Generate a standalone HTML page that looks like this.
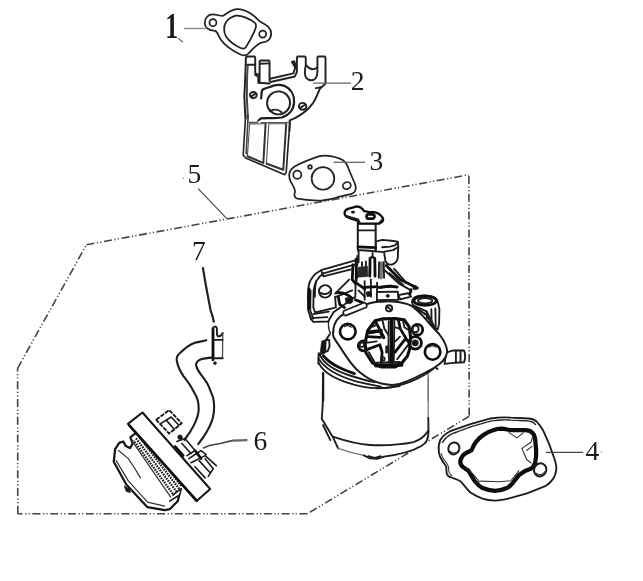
<!DOCTYPE html>
<html>
<head>
<meta charset="utf-8">
<title>Carburetor assembly</title>
<style>
html,body{margin:0;padding:0;background:#fff;}
body{width:643px;height:581px;overflow:hidden;position:relative;}
svg{position:absolute;left:0;top:0;display:block;}
.ln{fill:none;stroke:#222;stroke-width:7;stroke-linecap:round;stroke-linejoin:round;}
.th{fill:none;stroke:#333;stroke-width:5;stroke-linecap:round;stroke-linejoin:round;}
.bd{fill:none;stroke:#111;stroke-width:8;stroke-linecap:round;stroke-linejoin:round;}
.ln2{fill:none;stroke:#222;stroke-width:12.5;stroke-linecap:round;stroke-linejoin:round;}
.bd2{fill:none;stroke:#1a1a1a;stroke-width:14;stroke-linecap:round;stroke-linejoin:round;}
.ln3{fill:#fff;stroke:#222;stroke-width:8.5;stroke-linecap:round;stroke-linejoin:round;}
.k{fill:none;stroke:#1c1c1c;stroke-width:12;stroke-linecap:round;stroke-linejoin:round;}
.kk{fill:none;stroke:#111;stroke-width:18;stroke-linecap:round;stroke-linejoin:round;}
.g{fill:none;stroke:#777;stroke-width:8;stroke-linecap:round;stroke-linejoin:round;}
.f{fill:#151515;stroke:#151515;stroke-width:4;stroke-linejoin:round;}
.w{fill:#fff;stroke:#1c1c1c;stroke-width:12;stroke-linecap:round;stroke-linejoin:round;}
.w4{fill:#fff;stroke:#1c1c1c;stroke-width:9;stroke-linejoin:round;}
.ln4{fill:#fff;stroke:#1c1c1c;stroke-width:10;}
.th4{fill:none;stroke:#333;stroke-width:5.5;stroke-linecap:round;stroke-linejoin:round;}
.bd4{fill:none;stroke:#0c0c0c;stroke-width:21;stroke-linecap:round;stroke-linejoin:round;}
.w6{fill:#fff;stroke:#161616;stroke-width:9;stroke-linejoin:round;}
.k6{fill:none;stroke:#1c1c1c;stroke-width:8;stroke-linecap:round;stroke-linejoin:round;}
.b6{fill:none;stroke:#111;stroke-width:13;stroke-linecap:round;}
.t6{fill:none;stroke:#333;stroke-width:6;stroke-linecap:round;stroke-linejoin:round;}
.m6{fill:none;stroke:#1a1a1a;stroke-width:11;stroke-dasharray:8 5;}
.n2{fill:none;stroke:#222;stroke-width:13;stroke-linecap:round;stroke-linejoin:round;}
.ld{fill:none;stroke:#666;stroke-width:1.3;}
.dash{fill:none;stroke:#444;stroke-width:1.6;stroke-dasharray:8 2.6 1.2 2.2 1.2 2.6;}
text{font-family:"Liberation Serif",serif;fill:#1a1a1a;}
</style>
</head>
<body>
<svg width="643" height="581" viewBox="0 0 643 581">
<defs><filter id="soft" x="-5%" y="-5%" width="110%" height="110%"><feGaussianBlur stdDeviation="0.45"/></filter></defs>
<rect x="0" y="0" width="643" height="581" fill="#ffffff"/>
<g filter="url(#soft)">
<!--LABELS-->
<!--PART1-->
<g id="p1" transform="translate(150,0) scale(0.248834)">
<path class="ln" d="M220 92 C220 70 236 58 252 58 C268 58 280 64 292 64 C305 58 325 37 352 37 C385 37 420 62 440 85 C455 96 487 105 487 135 C487 158 470 170 452 170 C432 172 410 200 396 215 C388 223 376 224 366 220 C335 206 300 182 285 160 C275 145 272 128 262 124 C240 122 220 112 220 92 Z"/>
<path class="ln" d="M298 118 C296 95 312 72 345 63 C365 60 400 75 422 92 C430 100 426 112 420 125 C410 148 395 175 385 190 C380 197 372 197 362 192 C340 182 318 165 306 148 C300 138 298 128 298 118 Z"/>
<circle class="ln" cx="253" cy="91" r="14"/>
<circle class="ln" cx="453" cy="137" r="14"/>
</g>
<!--PART2-->
<g id="p2a" transform="translate(235,50) scale(0.155521)">
<path class="ln2" d="M72 50 L74 42 L126 42 L130 50 L130 150 L155 160"/>
<path class="ln2" d="M75 95 L128 95"/>
<path class="ln2" d="M70 50 L66 170 L60 300 L66 420 L68 440"/>
<path class="ln2" style="stroke:#444" d="M82 100 L78 170 L76 300 L82 420 L84 440"/>
<path class="ln2" d="M158 210 L158 72 L164 68 L218 68 L222 74 L222 200"/>
<path class="ln2" d="M160 88 L220 86"/>
<path class="ln2" d="M130 160 L150 172 L150 210 L222 216"/>
<path class="ln2" d="M225 185 L375 150 L392 100 L380 72 L366 76 L385 110"/>
<path class="ln2" d="M228 206 L385 170 L398 140"/>
<path class="ln2" d="M398 140 L398 50 L402 42 L450 42 L455 50 L455 100 C448 130 445 160 458 180 C475 200 505 200 520 180 C532 165 530 140 530 110 L530 50 L534 42 L578 42 L582 50 L582 215 L545 250 C525 300 510 335 495 350 C470 385 420 420 385 438 L352 452 L350 520"/>
<path class="ln2" d="M460 100 C480 125 505 130 528 112"/>
<path class="ln2" d="M520 245 L555 240"/>
<path class="bd2" d="M168 312 L172 265 C176 250 190 248 225 238 C250 225 290 220 320 232 C360 250 382 290 380 335 C378 380 350 420 300 434 C260 442 200 436 165 440 L152 452"/>
<circle class="ln2" cx="280" cy="340" r="74"/>
<path class="ln2" d="M225 392 C250 380 280 382 300 400"/>
<ellipse class="ln2" cx="118" cy="290" rx="22" ry="20"/>
<path class="ln2" d="M104 300 L132 280"/>
<ellipse class="ln2" cx="435" cy="362" rx="24" ry="22"/>
<path class="ln2" d="M420 372 L450 352"/>
</g>
<g id="p2b" transform="translate(230,110) scale(0.124417)">
<path class="n2" d="M126 40 L106 362 L126 386 L440 520 L452 500 L466 300 L482 96"/>
<path class="n2" style="stroke:#444" d="M146 40 L130 352"/>
<path class="n2" style="stroke:#555;stroke-width:10" d="M152 100 L220 100 L226 82"/>
<path class="n2" style="stroke:#555;stroke-width:10" d="M250 101 L460 100 L482 96"/>
<path class="n2" style="stroke:#555;stroke-width:9" d="M160 112 L282 110"/>
<path class="n2" style="stroke:#555;stroke-width:9" d="M158 112 L140 368"/>
<path class="n2" style="stroke-width:16;stroke:#333" d="M286 110 L268 425"/>
<path class="n2" style="stroke-width:16;stroke:#333" d="M140 372 L266 425"/>
<path class="n2" style="stroke:#555;stroke-width:9" d="M312 110 L292 438"/>
<path class="n2" style="stroke:#555;stroke-width:9" d="M312 110 L452 110"/>
<path class="n2" style="stroke-width:16;stroke:#333" d="M452 112 L428 478"/>
<path class="n2" style="stroke-width:16;stroke:#333" d="M296 432 L428 480"/>
</g>
<!--PART3-->
<g id="p3" transform="translate(270,140) scale(0.202177)">
<path class="ln3" d="M95 175 C95 155 105 142 120 132 C150 115 200 95 245 80 C275 74 310 80 345 92 C370 100 380 115 388 140 C395 160 412 195 422 222 C428 245 420 262 400 268 C380 272 350 278 325 286 C290 295 260 300 235 300 C200 298 160 294 135 290 C120 285 118 272 124 255 C122 235 112 222 102 205 C97 195 95 185 95 175 Z"/>
<circle class="ln3" cx="262" cy="190" r="56"/>
<circle class="ln3" cx="135" cy="172" r="20"/>
<circle class="ln3" cx="198" cy="133" r="9"/>
<ellipse class="ln3" cx="380" cy="226" rx="20" ry="17" transform="rotate(-25 380 226)"/>
</g>
<!--DASH-->
<g id="dash">
<path class="dash" d="M86.5 244.7 L468.7 174.8"/>
<path class="dash" d="M468.9 176 L469.2 416.3"/>
<path class="dash" d="M469.2 416.3 L307.4 513.8"/>
<path class="dash" d="M307.4 513.8 L17.8 513.8"/>
<path class="dash" d="M17.8 513.8 L17.6 368.3"/>
<path class="dash" d="M17.6 368.3 L86.5 244.7"/>
</g>
<!--CARB-->
<g id="bowl" transform="translate(300,390) scale(0.155521)">
<path d="M145 -130 L145 100 L140 185 L210 300 L245 375 C300 395 360 410 410 420 L460 442 L525 432 C600 420 700 405 780 360 C815 340 826 320 826 260 L824 -120 Z" fill="#fff" stroke="none"/>
<path class="k" d="M148 -110 L146 100 L140 185 L210 300 L245 375"/>
<path class="k" d="M148 225 L195 322"/>
<path class="k" d="M210 300 C300 330 380 350 450 354 C560 358 660 350 730 335 C770 322 800 300 822 265"/>
<path class="g" d="M245 375 C300 395 360 410 410 420"/>
<path class="k" d="M410 420 L450 440 L500 442 L540 428 C620 418 720 395 780 360 C812 340 826 320 826 265"/>
<path class="k" d="M440 425 L480 436 L520 426"/>
<path class="g" d="M824 -130 L824 180"/>
<path class="k" d="M825 180 L826 265"/>
</g>
<!--CARB-A-->
<!--CARB-B-->
<!--CARB-C-->
<!--CARB-D-->
<g id="cD" transform="translate(300,320) scale(0.155521)">
<!-- bowl rim arcs -->
<path class="k" d="M122 215 C150 280 230 330 330 360 C380 375 430 390 480 400"/>
<path class="k" d="M118 245 C160 320 260 365 360 395 C420 410 470 420 520 428"/>
<path class="k" d="M120 275 C150 340 250 395 400 428 C470 442 560 440 640 425"/>
<path class="kk" d="M150 230 C200 290 280 320 350 345"/>
<path class="k" d="M150 340 L150 520"/>
<path class="k" d="M120 215 L118 280"/>
<!-- small dark block on left -->
<path class="f" d="M140 135 L165 128 L170 160 L160 215 L128 225 L135 170 Z"/>
<path class="w" d="M165 130 L188 128 L190 170 L178 200 L162 205 Z"/>
<path class="k" d="M190 95 L165 130"/>
</g>
<g id="cE" transform="translate(380,320) scale(0.155521)">
<!-- nipple -->
<path class="w" d="M425 210 L470 196 L540 196 C550 215 550 250 540 272 L470 276 L415 282 Z"/>
<path class="k" d="M488 198 L488 274"/>
<path class="k" d="M518 198 L518 272"/>
<path class="k" d="M-20 440 C60 440 140 420 200 395 C260 370 310 340 345 312"/>
<path class="k" d="M350 300 L370 315"/>
<path class="g" d="M310 372 L310 520"/>
</g>
<!--FLANGE-->
<g id="flange">
<path d="M339.1 308.6 C335 310 332 313 329.4 318.7 C328 322 328 326 329.4 331.1 L330.6 332.7 L326.7 338.9" fill="none" stroke="#222" stroke-width="1.3" stroke-linecap="round"/>
<path d="M333 335 C333 327 335 321 339.2 317.5 C341 315 345 313.5 349 312 L367.3 304 C375 301.5 384 301 392 301.5 C400 302 407 303.5 411 305.6 C415 308 420 313 423.3 316.4 L430 324.2 L439.1 334 C443 339 447 345 447.2 351.9 C446.5 359 440 364.5 432.9 368.5 C423 374 411 380 400.2 383.8 C394 385.6 388 385 382.4 383.8 C374 382 366 377.5 359.7 372.3 C354 367.5 350 362 346 356.1 L338.6 344.9 C336 341 333.5 338 333 335 Z" fill="#fff" stroke="#1c1c1c" stroke-width="2" stroke-linejoin="round"/>
<circle cx="347.8" cy="331.6" r="7.8" fill="#fff" stroke="#111" stroke-width="2.6"/>
<circle cx="432.6" cy="351.9" r="7.8" fill="#fff" stroke="#111" stroke-width="2.6"/>
<path d="M344 327 C346.5 325.2 349.5 325.5 351.5 327.5" fill="none" stroke="#222" stroke-width="1.2"/>
<path d="M428.5 347.5 C431 345.5 434 345.5 436.5 347.5" fill="none" stroke="#222" stroke-width="1.2"/>
</g>
<!--BORE-->
<!--BORE-->
<g id="bore" transform="translate(330,290) scale(0.155521)">
<path class="kk" d="M290 197 L335 186 L420 183 L478 192 L508 235 L518 300 L512 380 L498 425 L462 470 L420 495 L332 495 L272 468 L232 405 L226 340 L242 262 Z" fill="#fff" style="stroke-width:20"/>
<!-- shaft -->
<path class="kk" style="stroke-width:22" d="M396 195 L394 470"/>
<path class="k" d="M378 200 L376 350 L380 465"/>
<path class="k" d="M414 195 L412 300 L410 460"/>
<path class="f" d="M358 360 L372 360 L372 405 L358 405 Z"/>
<!-- left wedge pieces -->
<path class="kk" style="stroke-width:24" d="M250 272 L328 262"/>
<path class="kk" d="M238 300 L325 304"/>
<path class="kk" d="M292 202 L318 250 L332 290"/>
<path class="k" d="M336 190 L350 250 L376 290"/>
<path class="kk" style="stroke-width:22" d="M322 262 L345 305"/>
<path class="kk" d="M232 385 L320 352 L335 400 L330 470"/>
<path class="k" d="M250 400 L290 470"/>
<path class="k" d="M232 340 L300 330"/>
<path class="k" d="M262 240 L300 225"/>
<circle class="k" cx="340" cy="443" r="11"/>
<!-- right plate pieces -->
<path class="kk" d="M418 400 L482 318"/>
<path class="k" d="M432 445 L505 350"/>
<path class="kk" d="M440 195 L452 250 L500 330"/>
<path class="k" d="M452 250 L420 240"/>
<path class="k" d="M470 200 L478 240 L510 260"/>
<path class="k" d="M420 330 L450 300"/>
<path class="kk" style="stroke-width:24" d="M295 487 L460 482"/>
<path class="k" d="M300 468 L450 463"/>
<!-- left lug -->
<path class="kk" d="M232 330 C210 320 185 335 182 355 C180 380 200 395 225 390" fill="#fff"/>
<circle class="k" cx="205" cy="352" r="14"/>
<!-- right screws -->
<circle class="kk" cx="562" cy="255" r="34" fill="#fff"/>
<circle class="k" cx="548" cy="250" r="22" fill="#fff"/>
<circle class="kk" cx="548" cy="340" r="40" fill="#fff"/>
<circle class="f" cx="548" cy="340" r="20"/>
<!-- small circle above bore -->
<circle class="k" cx="380" cy="118" r="20" fill="#fff"/>
<path class="k" d="M368 108 L392 128"/>
</g>
<!--BODY-->
<g id="cB" transform="translate(290,250) scale(0.155521)">
<!-- left housing -->
<path class="w" d="M425 65 L200 130 C160 150 130 180 120 230 L115 300 L118 390 L135 445 L150 462 L245 460 L280 400 L420 300 Z"/>
<path class="k" d="M420 92 L215 150"/>
<path class="k" d="M200 132 L215 170 L392 125"/>
<path class="k" d="M215 150 C180 175 158 205 152 260 L150 370 L162 402 L285 372"/>
<path class="k" d="M132 260 L130 390 L150 442"/>
<path class="k" d="M150 412 L250 396"/>
<path class="k" d="M135 438 L240 432"/>
<path class="kk" d="M122 250 L120 380"/>
<path class="k" d="M168 200 C160 230 160 260 160 300"/>
<circle class="k" cx="226" cy="266" r="40" fill="#fff"/>
<path class="k" d="M196 275 C215 290 245 285 262 262"/>
<!-- diag -->
<path class="k" d="M290 280 L380 190"/>
<path class="k" d="M300 300 L400 260"/>
<!-- linkage dark -->
<path class="kk" d="M300 275 C330 270 370 285 400 310"/>
<path class="f" d="M355 310 C375 300 400 310 405 330 C400 345 375 350 360 340 Z"/>
<path class="kk" d="M310 300 L320 350 L350 370"/>
<path class="kk" d="M420 320 L470 340"/>
<path class="k" d="M290 300 L295 370"/>
<!-- tilted rect (screw) -->
<path class="w" d="M345 392 L478 338 C490 340 497 355 492 368 L358 422 C345 420 338 402 345 392 Z" style="stroke-width:11"/>
<!-- post -->
<path class="kk" d="M405 95 L400 190 L420 215"/>
<path class="k" d="M425 70 L428 200"/>
<!-- block right -->
<path class="k" d="M480 200 L480 320"/>
<path class="k" d="M520 190 L520 300"/>
<path class="kk" d="M480 240 L560 235"/>
<path class="k" d="M560 210 L560 330"/>
<path class="kk" d="M430 215 L480 250"/>
<path class="k" d="M440 260 L480 300"/>
<path class="f" d="M490 270 L520 265 L525 295 L495 300 Z"/>
<path class="kk" d="M572 240 L650 232"/>
</g>
<g id="cC" transform="translate(380,250) scale(0.155521)">
<!-- diagonals -->
<path class="kk" d="M40 100 L130 190 L240 245"/>
<path class="k" d="M30 130 L120 215 L200 260"/>
<path class="k" d="M60 150 L150 225"/>
<path class="k" d="M90 120 L160 200"/>
<circle class="f" cx="225" cy="242" r="14"/>
<path class="kk" d="M200 255 L190 290"/>
<!-- block -->
<path class="kk" d="M0 240 L60 232 L110 238"/>
<path class="w" d="M-20 270 L115 268 L118 320 L-20 322 Z"/>
<path class="f" d="M50 283 L64 295 L50 307 L36 295 Z"/>
<path class="k" d="M0 332 L40 330"/>
<path class="w" d="M118 290 L180 278 L200 300 L130 318 Z"/>
<!-- right boss -->
<path class="w" d="M205 330 C210 300 250 290 290 292 C335 294 365 310 372 335 L382 380 L380 470 L372 510 L345 500 L300 420 L212 355 Z"/>
<ellipse class="kk" cx="290" cy="326" rx="72" ry="30" fill="#fff"/>
<ellipse class="k" cx="290" cy="326" rx="46" ry="17"/>
<path class="k" d="M210 355 L300 395 L350 495"/>
<path class="k" d="M300 395 L302 440"/>
<path class="k" d="M330 380 L332 480"/>
<path class="k" d="M356 375 L358 500"/>
<path class="k" d="M225 375 L290 410"/>
</g>
<g id="cA" transform="translate(320,200) scale(0.155521)">
<!-- right bracket -->
<path class="w" d="M358 268 L400 256 L460 262 L500 268 L503 300 L500 375 C495 395 482 410 462 415 C440 418 425 405 420 390 L412 335 L358 330 Z"/>
<path class="k" d="M400 304 L450 300 L482 292 L500 272"/>
<path class="k" d="M415 332 L470 322 L498 305"/>
<!-- cylinder -->
<path class="w" d="M243 150 L243 322 L358 330 L358 150 Z" style="stroke-width:13"/>
<path class="k" d="M247 195 L356 195"/>
<path class="kk" d="M245 302 L358 306"/>
<path class="k" d="M248 330 L248 400"/>
<!-- lever plate -->
<path class="w" d="M158 82 C160 68 168 62 180 57 L232 42 C250 40 262 45 270 55 L285 72 L312 77 L350 78 C370 82 385 92 396 105 C408 118 408 130 400 140 L382 152 L250 152 L240 132 L200 120 L168 106 C160 100 157 92 158 82 Z" style="stroke-width:15;stroke:#111"/>
<path class="k" d="M165 100 L200 112 L245 125 L255 145"/>
<ellipse class="f" cx="212" cy="78" rx="12" ry="7"/>
<path class="kk" d="M308 92 L342 92 C354 95 354 115 342 120 L308 120 C296 115 296 97 308 92 Z"/>
<path class="k" d="M380 150 L395 130"/>
<!-- spring -->
<path class="f" style="fill:#2a2a2a;stroke:#2a2a2a" d="M246 432 L306 426 L308 492 L244 496 Z"/>
<path class="kk" d="M232 380 L235 500"/>
<path class="k" d="M240 360 L240 420"/>
<path class="k" d="M270 400 L270 425"/>
<path class="k" d="M295 395 L295 425"/>
<!-- posts -->
<path class="kk" d="M322 375 L320 490"/>
<path class="kk" d="M352 375 L354 490"/>
<path class="k" d="M322 375 C330 362 345 362 352 375"/>
<path class="k" d="M338 340 L338 372"/>
<path class="g" style="stroke-width:22" d="M395 405 L393 500"/>
<path class="k" d="M410 400 L412 500"/>
<path class="k" d="M380 400 L378 500"/>
</g>
<!--PART4-->
<g id="p4" transform="translate(430,410) scale(0.202177)">
<path class="w4" d="M50 150 C65 125 80 115 100 105 L200 70 L300 42 C340 36 380 36 400 38 L490 42 C510 45 522 50 532 62 C545 75 552 88 560 102 L590 170 L615 240 C622 262 626 275 625 292 C622 315 618 328 608 342 C598 356 585 368 570 377 L480 412 L400 435 C370 443 345 448 320 448 C298 447 278 444 260 438 C238 430 218 420 200 408 C180 390 168 370 150 352 C138 345 122 340 110 335 C98 332 88 328 84 318 C80 305 82 292 80 280 C74 268 66 260 60 250 C52 238 46 225 44 210 C41 190 42 170 50 150 Z"/>
<path class="th4" style="stroke-width:7;stroke:#222;stroke-dasharray:30 6" d="M62 160 C75 138 90 128 108 118 L205 82 L300 55 C340 48 380 48 400 50 L485 54 C505 57 515 62 522 72"/>
<path class="th4" d="M56 215 C58 230 66 242 72 250 C84 262 92 275 92 290 C92 305 95 318 108 324"/>
<path class="bd4" d="M150 250 C155 232 162 222 176 214 L205 200 C212 185 216 172 226 160 C236 145 248 135 262 125 C280 112 295 104 312 100 C325 95 338 92 352 92 C370 93 385 98 400 100 L470 100 C485 100 498 104 506 112 C515 120 518 130 520 142 L525 200 C526 225 524 245 520 260 C515 275 510 283 500 290 L470 302 L440 322 L410 360 C400 372 392 380 380 386 C360 395 340 400 320 400 C298 398 278 393 260 386 C245 378 232 365 220 350 L190 300 C178 292 168 288 160 280 C152 270 148 260 150 250 Z"/>
<path class="th4" d="M390 112 L430 138 L462 112"/>
<path class="th4" d="M455 190 L500 158 L508 130"/>
<path class="th4" d="M455 190 L465 215 L478 245 L500 262"/>
<path class="th4" d="M478 200 L505 180"/>
<path class="th4" d="M440 300 L400 350 L340 355 L250 352"/>
<path class="th4" d="M180 285 L215 320 L245 355"/>
<ellipse class="ln4" cx="118" cy="190" rx="27" ry="30" transform="rotate(25 118 190)"/>
<path class="th4" d="M100 205 C112 218 130 215 140 200"/>
<ellipse class="ln4" cx="545" cy="296" rx="30" ry="33" transform="rotate(25 545 296)"/>
<path class="th4" d="M525 312 C538 325 558 322 568 305"/>
</g>
<!--PART6-->
<g id="hose1" transform="translate(150,310) scale(0.155521)">
<path class="k" style="stroke-width:13.5" d="M362 195 C330 205 305 205 285 212 C250 225 220 250 195 275 C175 290 168 305 172 325 C178 360 195 395 215 425 C235 450 255 475 270 505 L300 560 C312 590 315 620 312 655 C305 700 285 740 260 780 L222 835"/>
<path class="k" style="stroke-width:13.5" d="M402 306 C375 308 350 310 330 316 C310 322 298 335 296 352 C300 380 315 400 335 425 C355 450 372 470 385 510 L405 560 C415 600 415 640 405 690 C395 730 375 770 345 815 L310 862"/>
<path class="kk" d="M405 120 L405 320"/>
<path class="k" d="M405 120 C405 105 425 100 430 118 C432 140 425 160 438 170 C450 170 462 160 468 148"/>
<path class="g" style="stroke:#444" d="M468 150 L466 308"/>
<path class="k" d="M405 192 L466 192"/>
<path class="k" d="M405 310 L468 310"/>
<circle class="f" cx="418" cy="342" r="9"/>
</g>
<g id="p6" transform="translate(100,400) scale(0.202177)">
<!-- cover -->
<path class="w6" style="stroke-width:11" d="M75 243 L95 212 L115 205 L128 228 L148 238 L162 215 L150 185 L175 165 L400 440 L385 500 L345 540 L320 545 L235 530 L130 418 L68 305 Z"/>
<path class="t6" d="M92 250 L140 290 L170 335 L200 385"/>
<path class="t6" d="M80 300 L140 400 L235 505 L320 525"/>
<path class="f" d="M120 425 L145 440 L150 458 L130 452 Z"/>
<!-- mesh -->
<path d="M170 175 L215 150 L410 400 L390 470 Z" fill="#fff" stroke="none"/>
<path class="m6" d="M178 190 L380 455"/>
<path class="m6" d="M192 180 L392 440" style="stroke-dashoffset:5"/>
<path class="m6" d="M206 172 L402 425"/>
<path class="m6" d="M166 200 L365 470" style="stroke-dashoffset:5"/>
<path class="t6" d="M160 205 L350 480"/>
<path class="k6" d="M360 470 L400 440"/>
<path class="k6" d="M345 500 L385 475"/>
<!-- plate -->
<path class="w6" d="M138 118 L210 62 L545 440 L478 500 Z" style="stroke-width:10"/>
<path class="b6" d="M145 125 L478 498"/>
<!-- box -->
<path class="w6" style="stroke-dasharray:22 5" d="M278 98 L342 50 L404 115 L342 166 Z"/>
<path class="k6" d="M298 118 L352 84 L390 125"/>
<path class="k6" d="M330 102 L368 146"/>
<!-- connector -->
<circle class="f" cx="396" cy="184" r="11"/>
<path class="k6" d="M380 205 L420 190 L470 250 L430 275"/>
<path class="k6" d="M405 215 L450 265"/>
<path class="b6" d="M372 230 L412 275"/>
<path class="k6" d="M440 290 L500 250 L525 270"/>
<path class="b6" d="M470 250 L500 290"/>
<path class="k6" d="M450 310 L520 275 L575 325"/>
<path class="k6" d="M490 300 L545 360"/>
<path class="k6" d="M520 290 L560 340 L535 378"/>
<path class="k6" d="M470 330 L520 385"/>
</g>
<g id="labels">
<text transform="translate(165.2,37.6) scale(0.74,1)" x="0" y="0" font-size="35" font-weight="bold">1</text>
<text x="350.8" y="90.4" font-size="27.5">2</text>
<text x="369.4" y="169.8" font-size="27.5">3</text>
<text x="585.6" y="459.8" font-size="27.5">4</text>
<text x="187.6" y="183.4" font-size="27.5">5</text>
<text x="253.6" y="449.8" font-size="27.5">6</text>
<text x="192" y="260.3" font-size="27.5">7</text>
<path class="ld" style="stroke:#888" d="M184 28.5 L207 28.5"/>
<path class="ld" style="stroke-width:1.2" d="M178.1 38.1 L182.8 42.3"/>
<path class="ld" d="M313 83.1 L351 83.1"/>
<path class="ld" d="M333.4 162.3 L365 162.3"/>
<path class="ld" style="stroke:#444;stroke-width:1.2" d="M545.9 452.3 L583.2 452.3"/>
<circle cx="601.4" cy="452.3" r="0.7" fill="#888"/>
<circle cx="183.3" cy="178.3" r="0.7" fill="#888"/>
<path class="ld" style="stroke:#444;stroke-width:1.1" d="M198.1 188.6 L226.6 218.4"/>
<path class="ld" style="stroke:#222;stroke-width:2.2" d="M202.8 267.3 L206 286 L210.5 310 L212.2 315 L214 322.4"/>
<path class="ld" style="stroke:#666;stroke-width:2.2" d="M247.4 440.1 L232 440.6"/>
<path class="ld" style="stroke:#444;stroke-width:1.6" d="M232 440.6 L220.2 443.5 L209.3 445.4 L203 448.2"/>
</g>
</g>
</svg>
</body>
</html>
